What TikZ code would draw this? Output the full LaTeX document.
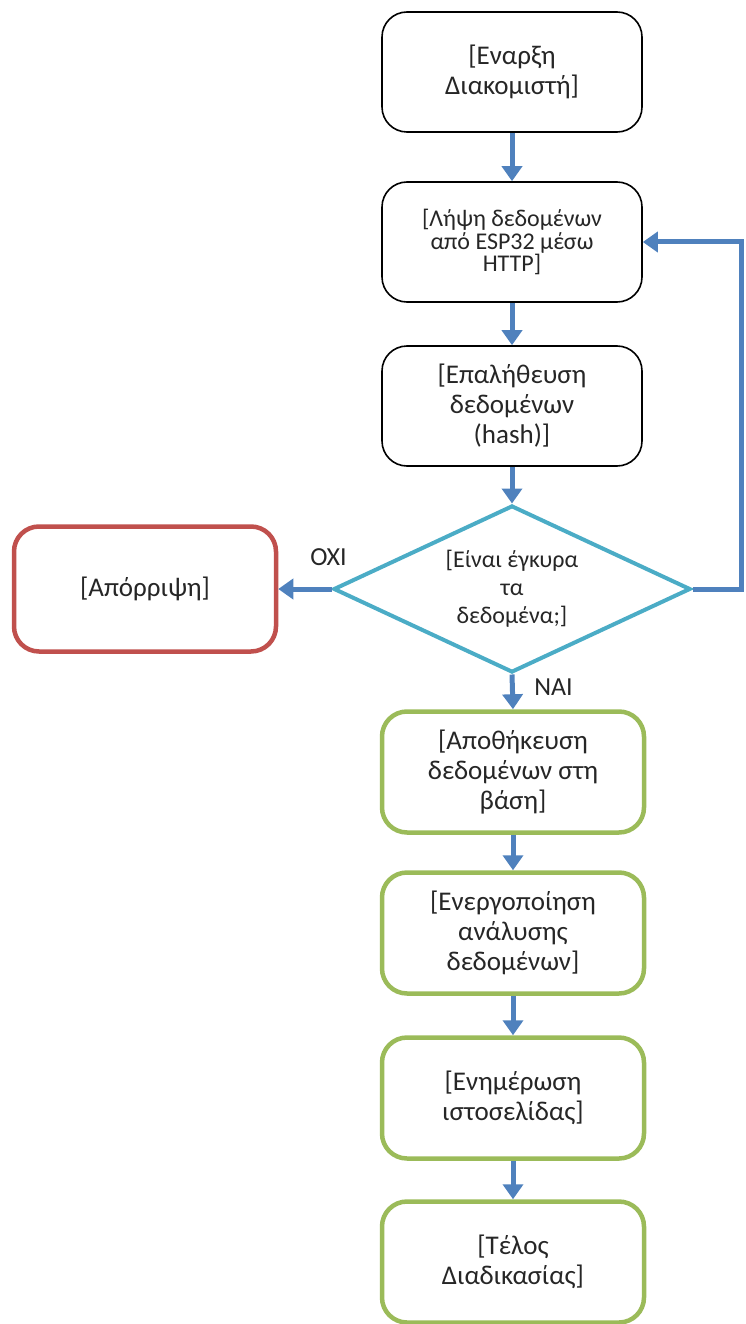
\documentclass[tikz,border=0pt]{standalone}
\usepackage{fontspec}
\setmainfont{Carlito}
\usetikzlibrary{arrows.meta,shapes.geometric}
\definecolor{arrowblue}{HTML}{4F81BD}
\definecolor{redb}{HTML}{C0504D}
\definecolor{greenb}{HTML}{9BBB59}
\definecolor{diab}{HTML}{4BACC6}
\definecolor{txt}{HTML}{262626}
\tikzset{
  blackbox/.style={draw=black, line width=1.6pt, rounded corners=25pt, minimum width=260pt, minimum height=120pt, align=center, text=txt, inner sep=0pt},
  greenbox/.style={draw=greenb, line width=4.5pt, rounded corners=25pt, minimum width=262pt, minimum height=121pt, align=center, text=txt, inner sep=0pt},
  redbox/.style={draw=redb, line width=4.5pt, rounded corners=25pt, minimum width=262pt, minimum height=125pt, align=center, text=txt, inner sep=0pt},
  decision/.style={draw=diab, line width=4pt, diamond, aspect=2.14, minimum width=357pt, minimum height=167pt, align=center, text=txt, inner sep=0pt},
  flow/.style={draw=arrowblue, line width=5pt, -{Triangle[width=20pt,length=15pt]}},
  lbl/.style={text=txt, font=\fontsize{26pt}{30pt}\selectfont},
  bigtxt/.style={font=\fontsize{27pt}{30pt}\selectfont},
  smalltxt/.style={font=\fontsize{24pt}{22.8pt}\selectfont},
  diatxt/.style={font=\fontsize{24pt}{28pt}\selectfont}
}
\begin{document}
\begin{tikzpicture}[x=1pt,y=-1pt]
\useasboundingbox (0,0) rectangle (746,1324);
\node[blackbox,bigtxt] (b1) at (512,72) {[Εναρξη\\Διακομιστή]};
\node[blackbox,smalltxt] (b2) at (512,242) {[Λήψη δεδομένων\\από ESP32 μέσω\\HTTP]};
\node[blackbox,bigtxt] (b3) at (512,406) {[Επαλήθευση\\δεδομένων\\(hash)]};
\node[decision,diatxt] (dia) at (512,589) {[Είναι έγκυρα\\τα\\δεδομένα;]};
\node[redbox,bigtxt] (rej) at (145,589) {[Απόρριψη]};
\node[greenbox,bigtxt] (g1) at (513,772) {[Αποθήκευση\\δεδομένων στη\\βάση]};
\node[greenbox,bigtxt] (g2) at (513,933) {[Ενεργοποίηση\\ανάλυσης\\δεδομένων]};
\node[greenbox,bigtxt] (g3) at (513,1098) {[Ενημέρωση\\ιστοσελίδας]};
\node[greenbox,bigtxt] (g4) at (513,1262) {[Τέλος\\Διαδικασίας]};
\node[lbl] (oxi) at (328.5,557) {OXI};
\node[lbl] (nai) at (553.5,687) {NAI};
\draw[flow] (b1.south) -- (b2.north);
\draw[flow] (b2.south) -- (b3.north);
\draw[flow] (b3.south) -- (dia.north);
\draw[flow] (dia.west) -- (rej.east);
\draw[flow] (dia.south) -- (g1.north);
\draw[flow] (g1.south) -- (g2.north);
\draw[flow] (g2.south) -- (g3.north);
\draw[flow] (g3.south) -- (g4.north);
\coordinate (loopc) at (741,589);
\draw[flow] (dia.east) -- (loopc) |- (b2.east);
\end{tikzpicture}
\end{document}
